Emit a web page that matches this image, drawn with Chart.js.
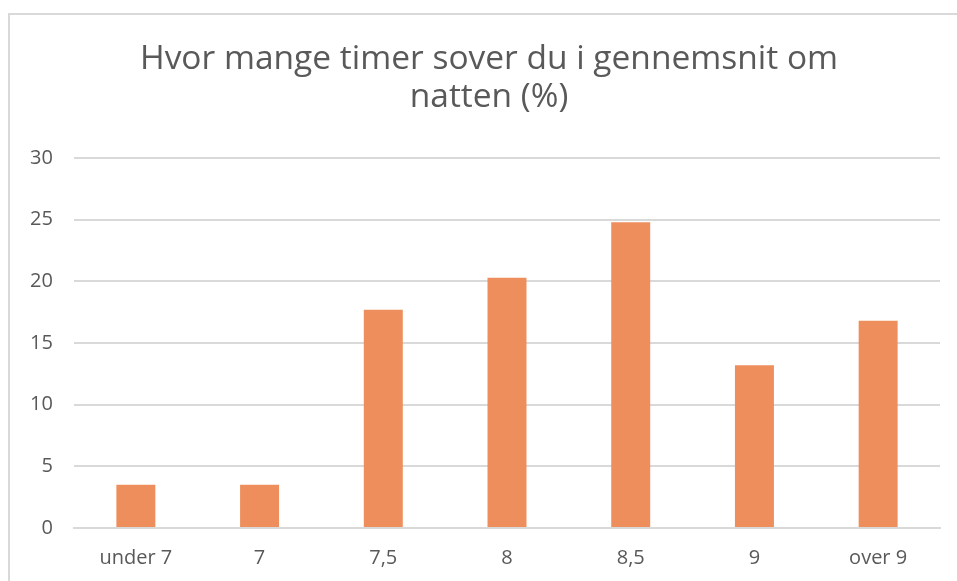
<!DOCTYPE html>
<html>
<head>
<meta charset="utf-8">
<script src="https://cdn.jsdelivr.net/npm/chart.js@4/dist/chart.umd.min.js"></script>
<style>
  html, body { margin: 0; padding: 0; background: #ffffff; overflow: hidden; }
  #wrap { position: relative; width: 957px; height: 581px; }
  #frame { position: absolute; left: 8px; top: 13px; width: 980px; height: 600px;
           border: 2px solid #d9d9d9; box-sizing: border-box; }
  canvas { position: absolute; left: 0; top: 0; }
</style>
</head>
<body>
<div id="wrap">
  <div id="frame"></div>
  <canvas id="c" width="957" height="581"></canvas>
</div>
<script>
const titleLines = ["Hvor mange timer sover du i gennemsnit om", "natten (%)"];
const categories = ["under 7", "7", "7,5", "8", "8,5", "9", "over 9"];
const percentValues = [3.5, 3.5, 17.7, 20.3, 24.8, 13.2, 16.8];
const yTicks = [0, 5, 10, 15, 20, 25, 30];

const textColor = "#595959";
const fontFamily = "'Open Sans', 'Liberation Sans', sans-serif";

new Chart(document.getElementById("c"), {
  type: "bar",
  data: {
    labels: categories,
    datasets: [{
      data: percentValues,
      backgroundColor: "#ED8E5C",
      borderWidth: 0,
      barPercentage: 1,
      categoryPercentage: 0.315
    }]
  },
  options: {
    responsive: false,
    animation: false,
    events: [],
    layout: { padding: { left: 38, right: 17, top: 0, bottom: 0 } },
    plugins: {
      legend: { display: false },
      tooltip: { enabled: false },
      title: {
        display: true,
        text: titleLines,
        color: textColor,
        font: { family: fontFamily, size: 33.5, weight: "normal", lineHeight: 1.15 },
        padding: { top: 40, bottom: 41 }
      }
    },
    scales: {
      x: {
        grid: { display: false, drawTicks: false },
        border: { display: true, color: "#d9d9d9", width: 2 },
        ticks: { color: textColor, font: { family: fontFamily, size: 20 }, padding: 18, maxRotation: 0 },
        afterFit: (s) => { s.height = 53; }
      },
      y: {
        min: 0,
        max: 30,
        afterBuildTicks: (s) => { s.ticks = yTicks.map(v => ({ value: v })); },
        grid: { color: "#d9d9d9", lineWidth: 2, drawTicks: false },
        border: { display: false },
        ticks: { color: textColor, font: { family: fontFamily, size: 20 },
                 mirror: true, crossAlign: "far", padding: -44 },
        afterFit: (s) => { s.width = 36; }
      }
    }
  }
});
</script>
</body>
</html>
